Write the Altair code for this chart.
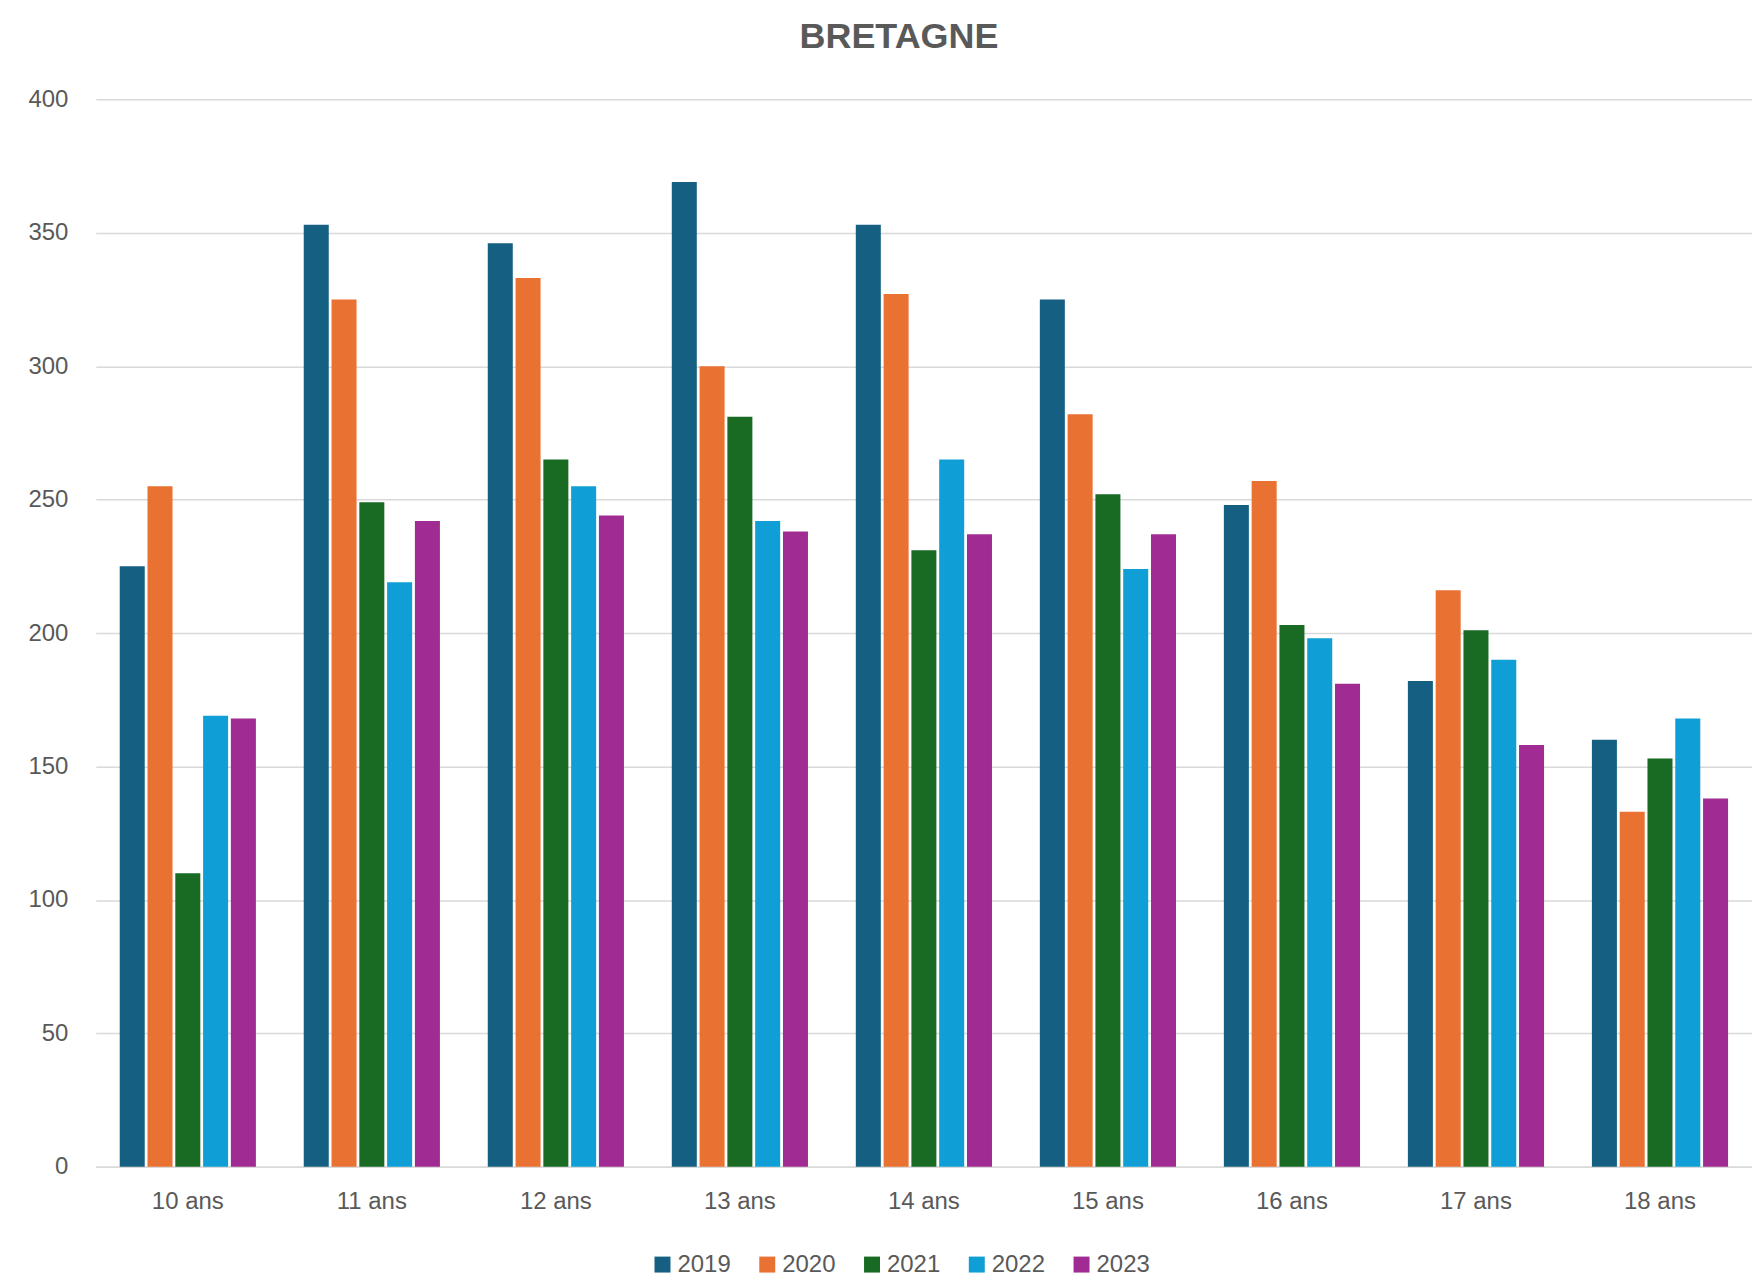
import altair as alt
import pandas as pd

ages = ["10 ans", "11 ans", "12  ans", "13 ans", "14 ans", "15 ans", "16 ans", "17 ans", "18 ans"]
years = ["2019", "2020", "2021", "2022", "2023"]
v2019 = [225, 353, 346, 369, 353, 325, 248, 182, 160]
v2020 = [255, 325, 333, 300, 327, 282, 257, 216, 133]
v2021 = [110, 249, 265, 281, 231, 252, 203, 201, 153]
v2022 = [169, 219, 255, 242, 265, 224, 198, 190, 168]
v2023 = [168, 242, 244, 238, 237, 237, 181, 158, 138]
colors = ["#156082", "#E97132", "#196B24", "#0F9ED5", "#A02B93"]

series = [v2019, v2020, v2021, v2022, v2023]
rows = []
for y, vals in zip(years, series):
    for a, v in zip(ages, vals):
        rows.append({"age": a, "year": y, "value": v})
df = pd.DataFrame(rows)

FONT = "Liberation Sans"
GRAY = "#595959"

chart = alt.Chart(df).mark_bar().encode(
    x=alt.X("age:N", sort=ages, title=None,
            scale=alt.Scale(paddingInner=0.26, paddingOuter=0.13),
            axis=alt.Axis(labelAngle=0, labelFont=FONT, labelFontSize=24, labelColor=GRAY,
                          tickSize=0, labelPadding=23, domainColor="#d9d9d9", domainWidth=1.5,
                          grid=False)),
    xOffset=alt.XOffset("year:N", sort=years, scale=alt.Scale(paddingInner=0.1)),
    y=alt.Y("value:Q", title=None,
            scale=alt.Scale(domain=[0, 400], nice=False),
            axis=alt.Axis(values=[0, 50, 100, 150, 200, 250, 300, 350, 400],
                          labelFont=FONT, labelFontSize=24, labelColor=GRAY,
                          tickSize=0, labelPadding=28, domain=False,
                          gridColor="#d9d9d9", gridWidth=1.5)),
    color=alt.Color("year:N", sort=years,
                    scale=alt.Scale(domain=years, range=colors),
                    legend=alt.Legend(title=None, orient="none", direction="horizontal",
                                      legendX=556, legendY=1156,
                                      symbolType="square", symbolSize=256,
                                      symbolStrokeWidth=0,
                                      labelFont=FONT, labelFontSize=24, labelColor=GRAY,
                                      labelOffset=3, columnPadding=24)),
).properties(
    width=1660,
    height=1070,
    title=alt.TitleParams("BRETAGNE", font=FONT, fontSize=36, fontWeight="bold",
                          color=GRAY, anchor="middle", offset=31, dx=-25),
    autosize=alt.AutoSizeParams(type="none"),
    padding={"left": 88, "top": 90, "right": 0, "bottom": 110},
).configure_view(stroke=None)

chart.save("out.html", embed_options={"renderer": "svg", "actions": False})
